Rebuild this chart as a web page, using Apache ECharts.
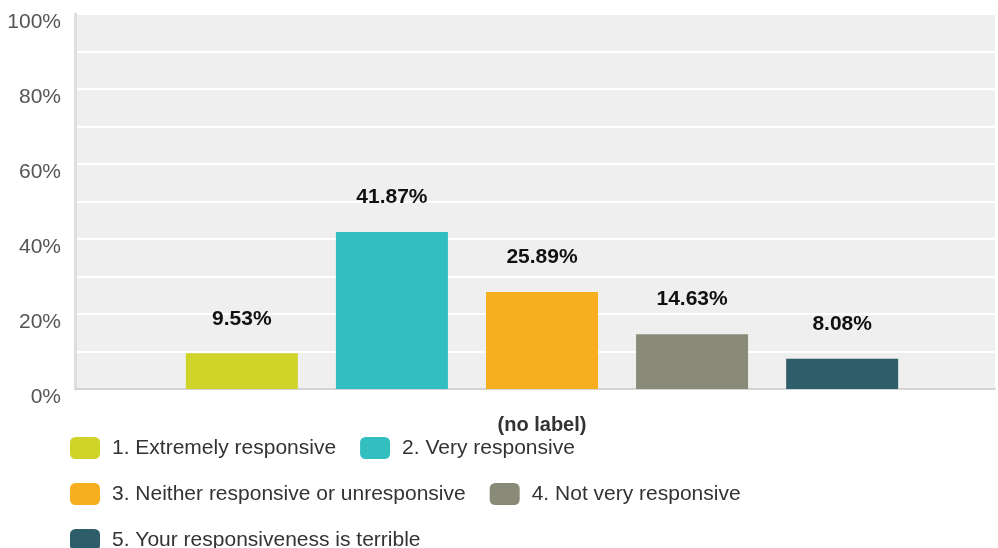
<!DOCTYPE html>
<html><head><meta charset="utf-8">
<script src="https://cdn.jsdelivr.net/npm/echarts@6/dist/echarts.min.js"></script>
<style>html,body{margin:0;padding:0;background:#fff}#c{width:998px;height:548px}</style>
</head><body><div id="c"></div>
<script>
var categories = ['(no label)'];
var seriesNames = ['1. Extremely responsive','2. Very responsive','3. Neither responsive or unresponsive','4. Not very responsive','5. Your responsiveness is terrible'];
var seriesValues = [[9.53],[41.87],[25.89],[14.63],[8.08]];
var colors = ['#d0d428','#33bec0','#f7ae1f','#8a8a78','#2f5e6b'];
var yTicks = [0,20,40,60,80,100];

var FONT = 'Arial, Liberation Sans';
var chart = echarts.init(document.getElementById('c'));
var series = seriesNames.map(function(n,i){
  return {
    name:n, type:'bar', data:seriesValues[i], barWidth:112, barGap:'34%',
    xAxisIndex:1, yAxisIndex:1,
    itemStyle:{color:colors[i]},
    label:{show:true, position:'top', distance:24, formatter:function(p){return p.value.toFixed(2)+'%';},
      fontFamily:FONT, fontWeight:'bold', fontSize:21, color:'#111'}
  };
});
chart.setOption({
  animation:false,
  color:colors,
  grid:[
    {left:75,right:3,top:14,bottom:159,show:true,backgroundColor:'#efefef',borderWidth:0},
    {left:89,right:3,top:14,bottom:159}
  ],
  xAxis:[
    {type:'category',data:categories,gridIndex:0,
      axisLine:{show:true,lineStyle:{color:'#d4d4d4',width:2}},
      axisTick:{show:false},axisLabel:{show:false}},
    {type:'category',data:categories,gridIndex:1,
      axisLine:{show:false},axisTick:{show:false},
      axisLabel:{margin:26,fontFamily:FONT,fontWeight:'bold',fontSize:20,color:'#333'}}
  ],
  yAxis:[
    {type:'value',min:0,max:100,interval:10,gridIndex:0,
      axisLine:{show:true,lineStyle:{color:'#dedede',width:3}},
      axisTick:{show:false},
      splitLine:{show:true,lineStyle:{color:'#ffffff',width:2}},
      axisLabel:{margin:14,verticalAlign:'top',lineHeight:16,fontFamily:FONT,fontSize:21,color:'#555',
        formatter:function(v){return yTicks.indexOf(v)>=0 ? v+'%' : '';}}},
    {type:'value',min:0,max:100,interval:10,gridIndex:1,show:false,splitLine:{show:false}}
  ],
  legend:{left:70,top:437,width:780,padding:0,itemWidth:30,itemHeight:22,itemGap:24,icon:'roundRect',
    selectedMode:false,
    textStyle:{fontFamily:FONT,fontSize:21,color:'#333',padding:[0,0,0,7]}},
  series:series
});
</script></body></html>
